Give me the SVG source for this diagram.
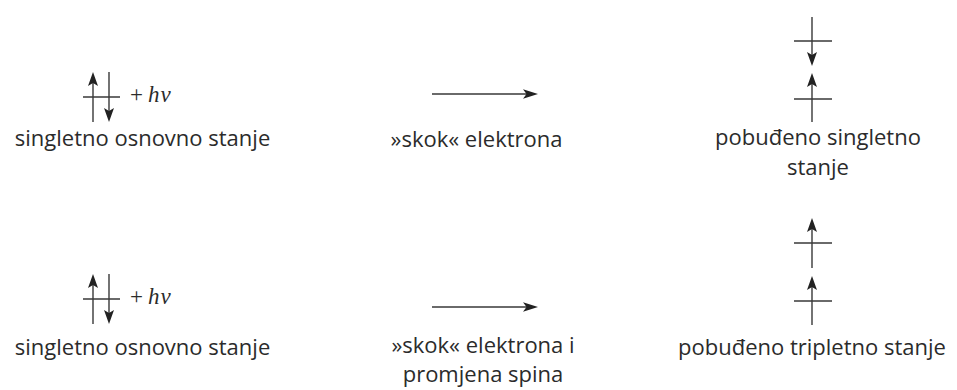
<svg xmlns="http://www.w3.org/2000/svg" width="957" height="390" viewBox="0 0 957 390">
<defs>
<style>
.t{font-family:"Open Sans","Noto Sans","DejaVu Sans",sans-serif;font-size:22px;fill:#2b2b2b;text-anchor:middle}
.hv{font-family:"Liberation Serif","DejaVu Serif",serif;font-size:23px;fill:#2b2b2b}
.ln{stroke:#383838;stroke-width:1.4;fill:none}
.sp{stroke:#383838;stroke-width:1.4;fill:none;marker-end:url(#sh)}
.ar{stroke:#383838;stroke-width:1.4;fill:none;marker-end:url(#ah)}
</style>
<marker id="sh" viewBox="-15 -6 16 12" refX="-3" refY="0" markerWidth="16" markerHeight="12" markerUnits="userSpaceOnUse" orient="auto">
<path d="M0,0 L-14,-5 L-11,0 L-14,5 Z" fill="#222"/>
</marker>
<marker id="ah" viewBox="-16 -6 17 12" refX="-3" refY="0" markerWidth="17" markerHeight="12" markerUnits="userSpaceOnUse" orient="auto">
<path d="M0,0 L-15,-4.8 L-11.5,0 L-15,4.8 Z" fill="#222"/>
</marker>
</defs>
<rect width="957" height="390" fill="#fff"/>

<g id="ground1">
<line class="sp" x1="93" y1="122" x2="93" y2="75"/>
<line class="sp" x1="109" y1="72" x2="109" y2="119"/>
<line class="ln" x1="83" y1="97" x2="120" y2="97"/>
<text class="hv" x="130" y="102">+</text>
<text class="hv" x="148" y="102" font-style="italic" letter-spacing="1">hν</text>
<text class="t" x="142.5" y="146">singletno osnovno stanje</text>
</g>

<g id="jump1">
<text class="t" x="476.5" y="147">»skok« elektrona</text>
</g>

<g id="excited-singlet">
<line class="sp" x1="812" y1="17" x2="812" y2="63"/>
<line class="sp" x1="812" y1="122" x2="812" y2="76"/>
<line class="ln" x1="794" y1="41" x2="832" y2="41"/>
<line class="ln" x1="794" y1="99" x2="832" y2="99"/>
<text class="t" x="818" y="145">pobuđeno singletno</text>
<text class="t" x="818" y="175">stanje</text>
</g>

<g id="ground2">
<line class="sp" x1="93" y1="324" x2="93" y2="277"/>
<line class="sp" x1="109" y1="274" x2="109" y2="321"/>
<line class="ln" x1="83" y1="299" x2="120" y2="299"/>
<text class="hv" x="130" y="304">+</text>
<text class="hv" x="148" y="304" font-style="italic" letter-spacing="1">hν</text>
<text class="t" x="142.5" y="355">singletno osnovno stanje</text>
</g>

<g id="jump2">
<text class="t" x="483" y="353">»skok« elektrona i</text>
<text class="t" x="483" y="382">promjena spina</text>
</g>

<g id="excited-triplet">
<line class="sp" x1="812" y1="268" x2="812" y2="221"/>
<line class="sp" x1="812" y1="325" x2="812" y2="279"/>
<line class="ln" x1="794" y1="243" x2="832" y2="243"/>
<line class="ln" x1="794" y1="301" x2="832" y2="301"/>
<text class="t" x="812" y="355">pobuđeno tripletno stanje</text>
</g>

<g id="connectors">
<line class="ar" x1="432" y1="94" x2="535" y2="94"/>
<line class="ar" x1="432" y1="307" x2="535" y2="307"/>
</g>
</svg>
